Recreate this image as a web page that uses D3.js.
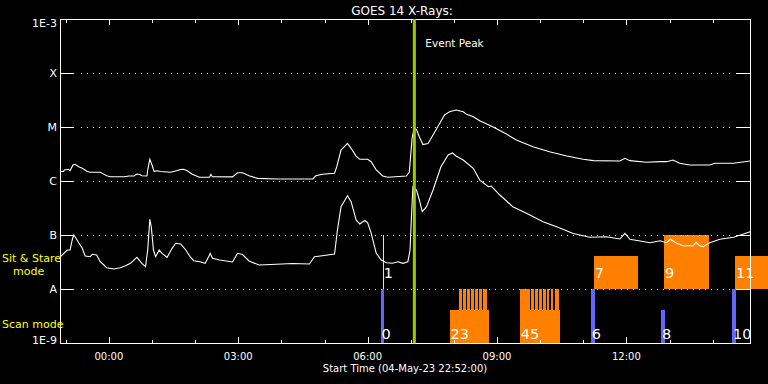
<!DOCTYPE html>
<html>
<head>
<meta charset="utf-8">
<script src="https://cdn.jsdelivr.net/npm/d3@7"></script>
<style>
  html, body { margin: 0; background: #000; }
  svg { display: block; font-family: "DejaVu Sans", sans-serif; }
</style>
</head>
<body>
<div id="chart"></div>
<script>
// --- data ---
const startTime = "2023-05-04T22:52:00Z";
const spanMinutes = 960;          // 16 h window
const eventPeakMinute = 493;

// long channel, minutes after start / flux (W m^-2)
const longMinutes = [
  0, 5, 6, 12, 14, 18, 21, 26, 31, 38,
  42, 56, 65, 70, 82, 89, 96, 103, 107, 111,
  114, 121, 122, 125, 128, 131, 135, 140, 154, 158,
  168, 172, 177, 184, 194, 208, 210, 212, 240, 247,
  254, 263, 275, 301, 333, 352, 356, 365, 382, 385,
  391, 400, 405, 412, 417, 428, 433, 440, 449, 456,
  482, 486, 490, 493, 496, 500, 505, 512, 523, 535,
  542, 551, 561, 565, 575, 584, 602, 621, 635, 658,
  681, 705, 728, 742, 779, 786, 793, 816, 835, 844,
  853, 862, 876, 904, 911, 937, 960
];
const longFlux = [
  1.50e-6, 1.50e-6, 1.60e-6, 1.65e-6, 1.55e-6, 1.98e-6, 2.04e-6, 1.84e-6, 1.72e-6, 1.50e-6,
  1.45e-6, 1.45e-6, 1.25e-6, 1.20e-6, 1.20e-6, 1.20e-6, 1.24e-6, 1.24e-6, 1.35e-6, 1.32e-6,
  1.25e-6, 1.24e-6, 1.60e-6, 2.52e-6, 1.98e-6, 1.50e-6, 1.55e-6, 1.50e-6, 1.45e-6, 1.50e-6,
  1.63e-6, 1.65e-6, 1.55e-6, 1.33e-6, 1.17e-6, 1.17e-6, 1.33e-6, 1.20e-6, 1.19e-6, 1.42e-6,
  1.42e-6, 1.25e-6, 1.12e-6, 1.09e-6, 1.09e-6, 1.09e-6, 1.25e-6, 1.33e-6, 1.39e-6, 1.82e-6,
  3.75e-6, 4.98e-6, 4.03e-6, 2.90e-6, 2.52e-6, 2.52e-6, 2.28e-6, 1.60e-6, 1.24e-6, 1.17e-6,
  1.24e-6, 1.47e-6, 6.52e-6, 9.57e-6, 8.99e-6, 6.52e-6, 4.74e-6, 4.94e-6, 8.79e-6, 1.67e-5,
  1.92e-5, 2.06e-5, 1.92e-5, 1.74e-5, 1.55e-5, 1.31e-5, 1.01e-5, 7.41e-6, 5.74e-6, 4.32e-6,
  3.49e-6, 2.90e-6, 2.52e-6, 2.38e-6, 2.35e-6, 2.63e-6, 2.38e-6, 2.22e-6, 2.28e-6, 2.28e-6,
  2.45e-6, 2.13e-6, 1.98e-6, 1.98e-6, 2.13e-6, 2.13e-6, 2.35e-6
];

// short channel
const shortMinutes = [
  0, 3, 10, 14, 17, 19, 21, 26, 31, 35,
  42, 45, 51, 56, 61, 65, 75, 84, 91, 98,
  107, 114, 119, 122, 125, 127, 130, 133, 138, 142,
  149, 156, 161, 168, 175, 181, 186, 195, 202, 208,
  209, 212, 222, 240, 247, 254, 263, 277, 301, 324,
  347, 354, 365, 382, 386, 391, 400, 405, 412, 417,
  424, 428, 433, 440, 447, 454, 463, 470, 477, 484,
  487, 489, 491, 496, 500, 504, 510, 519, 530, 540,
  546, 551, 561, 575, 584, 596, 600, 612, 630, 649,
  672, 691, 714, 737, 760, 779, 786, 793, 807, 821,
  835, 844, 849, 858, 867, 881, 885, 890, 895, 904,
  918, 937, 951, 960
];
const shortFlux = [
  3.96e-8, 4.26e-8, 5.27e-8, 5.27e-8, 8.08e-8, 1.00e-7, 9.30e-8, 7.20e-8, 5.67e-8, 4.08e-8,
  3.96e-8, 4.39e-8, 4.26e-8, 3.20e-8, 2.78e-8, 2.48e-8, 2.35e-8, 2.48e-8, 2.70e-8, 2.99e-8,
  3.86e-8, 2.99e-8, 2.59e-8, 5.27e-8, 1.95e-7, 1.42e-7, 5.27e-8, 3.96e-8, 5.27e-8, 4.58e-8,
  3.86e-8, 5.67e-8, 7.02e-8, 6.81e-8, 5.27e-8, 3.96e-8, 3.34e-8, 3.20e-8, 2.99e-8, 4.26e-8,
  4.58e-8, 3.70e-8, 3.44e-8, 3.16e-8, 4.58e-8, 4.35e-8, 3.30e-8, 2.78e-8, 2.87e-8, 2.96e-8,
  2.90e-8, 3.96e-8, 4.14e-8, 4.45e-8, 1.24e-7, 3.34e-7, 5.34e-7, 4.14e-7, 1.90e-7, 1.60e-7,
  1.86e-7, 1.70e-7, 1.07e-7, 4.58e-8, 3.44e-8, 3.07e-8, 2.99e-8, 3.20e-8, 2.99e-8, 3.20e-8,
  5.27e-8, 2.18e-7, 7.83e-7, 6.81e-7, 4.45e-7, 2.70e-7, 3.34e-7, 6.81e-7, 1.84e-6, 3.03e-6,
  3.30e-6, 2.90e-6, 2.45e-6, 1.72e-6, 1.04e-6, 7.83e-7, 8.07e-7, 5.50e-7, 3.34e-7, 2.52e-7,
  1.76e-7, 1.42e-7, 1.07e-7, 9.06e-8, 9.30e-8, 8.43e-8, 1.07e-7, 8.33e-8, 7.74e-8, 7.20e-8,
  7.84e-8, 7.20e-8, 8.33e-8, 7.02e-8, 6.34e-8, 6.34e-8, 7.32e-8, 6.34e-8, 6.07e-8, 7.20e-8,
  8.33e-8, 9.06e-8, 1.04e-7, 1.15e-7
];

const levelValues = [1e-3, 1e-4, 1e-5, 1e-6, 1e-7, 1e-8, 1e-9];
const levelLabels = ["1E-3", "X", "M", "C", "B", "A", "1E-9"];
const timeTickLabels = ["00:00", "03:00", "06:00", "09:00", "12:00"];

// observation periods (minutes after start); fill = fraction of the mode band
const scanBarStart = [446, 738.5, 836, 935];
const scanBarEnd   = [450.5, 744, 841.5, 940.5];
const scanBarFill  = [1, 1, 0.61, 1];
const scanBlockStart = [542, 639.6];
const scanBlockEnd   = [596.5, 696.3];
const scanToothStart = [555, 560.5, 566, 571.5, 577, 582.5, 588, 639.6, 655, 660.5, 666, 671.5, 677, 682.5, 688];
const scanToothEnd   = [559, 564.5, 570, 575.5, 581, 586.5, 593.5, 653.5, 659, 664.5, 670, 675.5, 681, 686.5, 694];
const sitBlockStart = [742.7, 840.2, 939];
const sitBlockEnd   = [804, 903, 986];
const sitBlockFill  = [0.61, 1, 0.61];
const sitLineMinute = [449];

const obsLabels      = ["0", "1", "23", "45", "6", "7", "8", "9", "10", "11"];
const obsLabelMode   = ["scan", "sit", "scan", "scan", "scan", "sit", "scan", "sit", "scan", "sit"];
const obsLabelMinute = [446, 449, 542, 639.6, 738.5, 742.7, 836, 840.2, 935, 939];

// --- setup ---
const W = 768, H = 384;
const plotL = 60, plotR = 750, plotT = 19, plotB = 343;

const t0 = d3.isoParse(startTime);
const atMinute = m => new Date(t0.getTime() + m * 60000);

const x = d3.scaleUtc().domain([t0, atMinute(spanMinutes)]).range([plotL, plotR]);
const y = d3.scaleLog().domain([1e-9, 1e-3]).range([plotB, plotT]);
const xm = m => x(atMinute(m));

const svg = d3.select("#chart").append("svg")
  .attr("width", W).attr("height", H)
  .style("background", "#000");

const ORANGE = "#ff8000", BLUE = "#6464ff", YELLOW = "#ffff00", GREEN = "#9acd00";

const band = mode => mode === "scan" ? [y(1e-9), y(1e-8)] : [y(1e-8), y(1e-7)];

// observation blocks
const blocks = svg.append("g").attr("shape-rendering", "crispEdges");
function addBlock(mode, s, e, fill, color) {
  const [yb, yt] = band(mode);
  const h = (yb - yt) * fill;
  blocks.append("rect")
    .attr("x", xm(s))
    .attr("width", Math.max(1, xm(e) - xm(s)))
    .attr("y", yb - h)
    .attr("height", h)
    .attr("fill", color);
}
scanBlockStart.forEach((s, i) => addBlock("scan", s, scanBlockEnd[i], 0.61, ORANGE));
scanToothStart.forEach((s, i) => addBlock("scan", s, scanToothEnd[i], 1, ORANGE));
scanBarStart.forEach((s, i) => addBlock("scan", s, scanBarEnd[i], scanBarFill[i], BLUE));
sitBlockStart.forEach((s, i) => addBlock("sit", s, sitBlockEnd[i], sitBlockFill[i], ORANGE));

// single sit & stare pointing shown as a thin line
sitLineMinute.forEach(m => {
  const [yb, yt] = band("sit");
  const xx = Math.round(xm(m)) + 0.5;
  svg.append("line")
    .attr("x1", xx).attr("x2", xx).attr("y1", yt).attr("y2", yb)
    .attr("stroke", YELLOW).attr("shape-rendering", "crispEdges");
});

// level grid: solid stubs at both sides, dotted between
const grid = svg.append("g").attr("stroke", "#fff").attr("shape-rendering", "crispEdges");
levelValues.slice(1, -1).forEach(v => {
  const yy = Math.round(y(v)) + 0.5;
  grid.append("line").attr("x1", plotL).attr("x2", plotL + 14).attr("y1", yy).attr("y2", yy);
  grid.append("line").attr("x1", plotR - 14).attr("x2", plotR).attr("y1", yy).attr("y2", yy);
  grid.append("line").attr("x1", plotL + 21).attr("x2", plotR - 15).attr("y1", yy).attr("y2", yy)
    .attr("stroke-dasharray", "1 5");
});

// flux curves
const line = d3.line().x(d => xm(d[0])).y(d => y(d[1]));
[[longMinutes, longFlux], [shortMinutes, shortFlux]].forEach(([ms, fs]) => {
  svg.append("path")
    .datum(ms.map((m, i) => [m, fs[i]]))
    .attr("d", line)
    .attr("fill", "none")
    .attr("stroke", "#fff")
    .attr("stroke-width", 1.1);
});

// frame
svg.append("rect")
  .attr("x", plotL + 0.5).attr("y", plotT + 0.5)
  .attr("width", plotR - plotL).attr("height", plotB - plotT)
  .attr("fill", "none").attr("stroke", "#fff")
  .attr("shape-rendering", "crispEdges");

// hourly ticks, longer at labelled hours
const fmt = d3.utcFormat("%H:%M");
const ticks = svg.append("g").attr("stroke", "#fff").attr("shape-rendering", "crispEdges");
d3.utcHour.range(t0, atMinute(spanMinutes)).forEach(t => {
  const xx = Math.round(x(t)) + 0.5;
  const major = timeTickLabels.includes(fmt(t));
  ticks.append("line").attr("x1", xx).attr("x2", xx).attr("y1", plotB).attr("y2", plotB - (major ? 6 : 3));
  ticks.append("line").attr("x1", xx).attr("x2", xx).attr("y1", plotT).attr("y2", plotT + (major ? 6 : 4));
});

// event peak line
svg.append("line")
  .attr("x1", xm(eventPeakMinute)).attr("x2", xm(eventPeakMinute))
  .attr("y1", plotT).attr("y2", plotB + 0.5)
  .attr("stroke", GREEN).attr("stroke-width", 3);

svg.append("text")
  .attr("x", xm(eventPeakMinute) + 11).attr("y", 47)
  .attr("fill", "#fff").style("font-size", "10.5px")
  .text("Event Peak");

// observation numbers
obsLabels.forEach((txt, i) => {
  const [yb] = band(obsLabelMode[i]);
  svg.append("text")
    .attr("x", xm(obsLabelMinute[i]) + 1)
    .attr("y", obsLabelMode[i] === "scan" ? yb - 4.5 : yb - 11.5)
    .attr("fill", "#fff")
    .style("font-size", "14.5px")
    .text(txt);
});

// redraw right border over label 11
svg.append("line")
  .attr("x1", plotR + 0.5).attr("x2", plotR + 0.5).attr("y1", plotT).attr("y2", plotB + 1)
  .attr("stroke", "#fff").attr("shape-rendering", "crispEdges");

// y labels
levelValues.forEach((v, i) => {
  let yy = y(v) + 4.3;
  if (i === 0) yy = y(v) + 8;
  if (i === levelValues.length - 1) yy = y(v) + 0.5;
  svg.append("text")
    .attr("x", 57).attr("y", yy)
    .attr("text-anchor", "end")
    .attr("fill", "#fff").style("font-size", "11px")
    .text(levelLabels[i]);
});

// mode labels
const modeText = svg.append("g").attr("fill", YELLOW).style("font-size", "11px");
modeText.append("text").attr("x", 2).attr("y", 261.5).text("Sit & Stare");
modeText.append("text").attr("x", 13).attr("y", 275).text("mode");
modeText.append("text").attr("x", 2).attr("y", 328).text("Scan mode");

// x labels
timeTickLabels.forEach(lbl => {
  const t = d3.utcHour.range(t0, atMinute(spanMinutes)).find(d => fmt(d) === lbl);
  svg.append("text")
    .attr("x", x(t)).attr("y", 359.5)
    .attr("text-anchor", "middle")
    .attr("fill", "#fff").style("font-size", "10px")
    .text(lbl);
});

svg.append("text")
  .attr("x", 405).attr("y", 371.5)
  .attr("text-anchor", "middle")
  .attr("fill", "#fff").style("font-size", "10px")
  .text("Start Time (04-May-23 22:52:00)");

// title
svg.append("text")
  .attr("x", 402).attr("y", 15)
  .attr("text-anchor", "middle")
  .attr("fill", "#fff").style("font-size", "12px")
  .text("GOES 14 X-Rays:");
</script>
</body>
</html>
